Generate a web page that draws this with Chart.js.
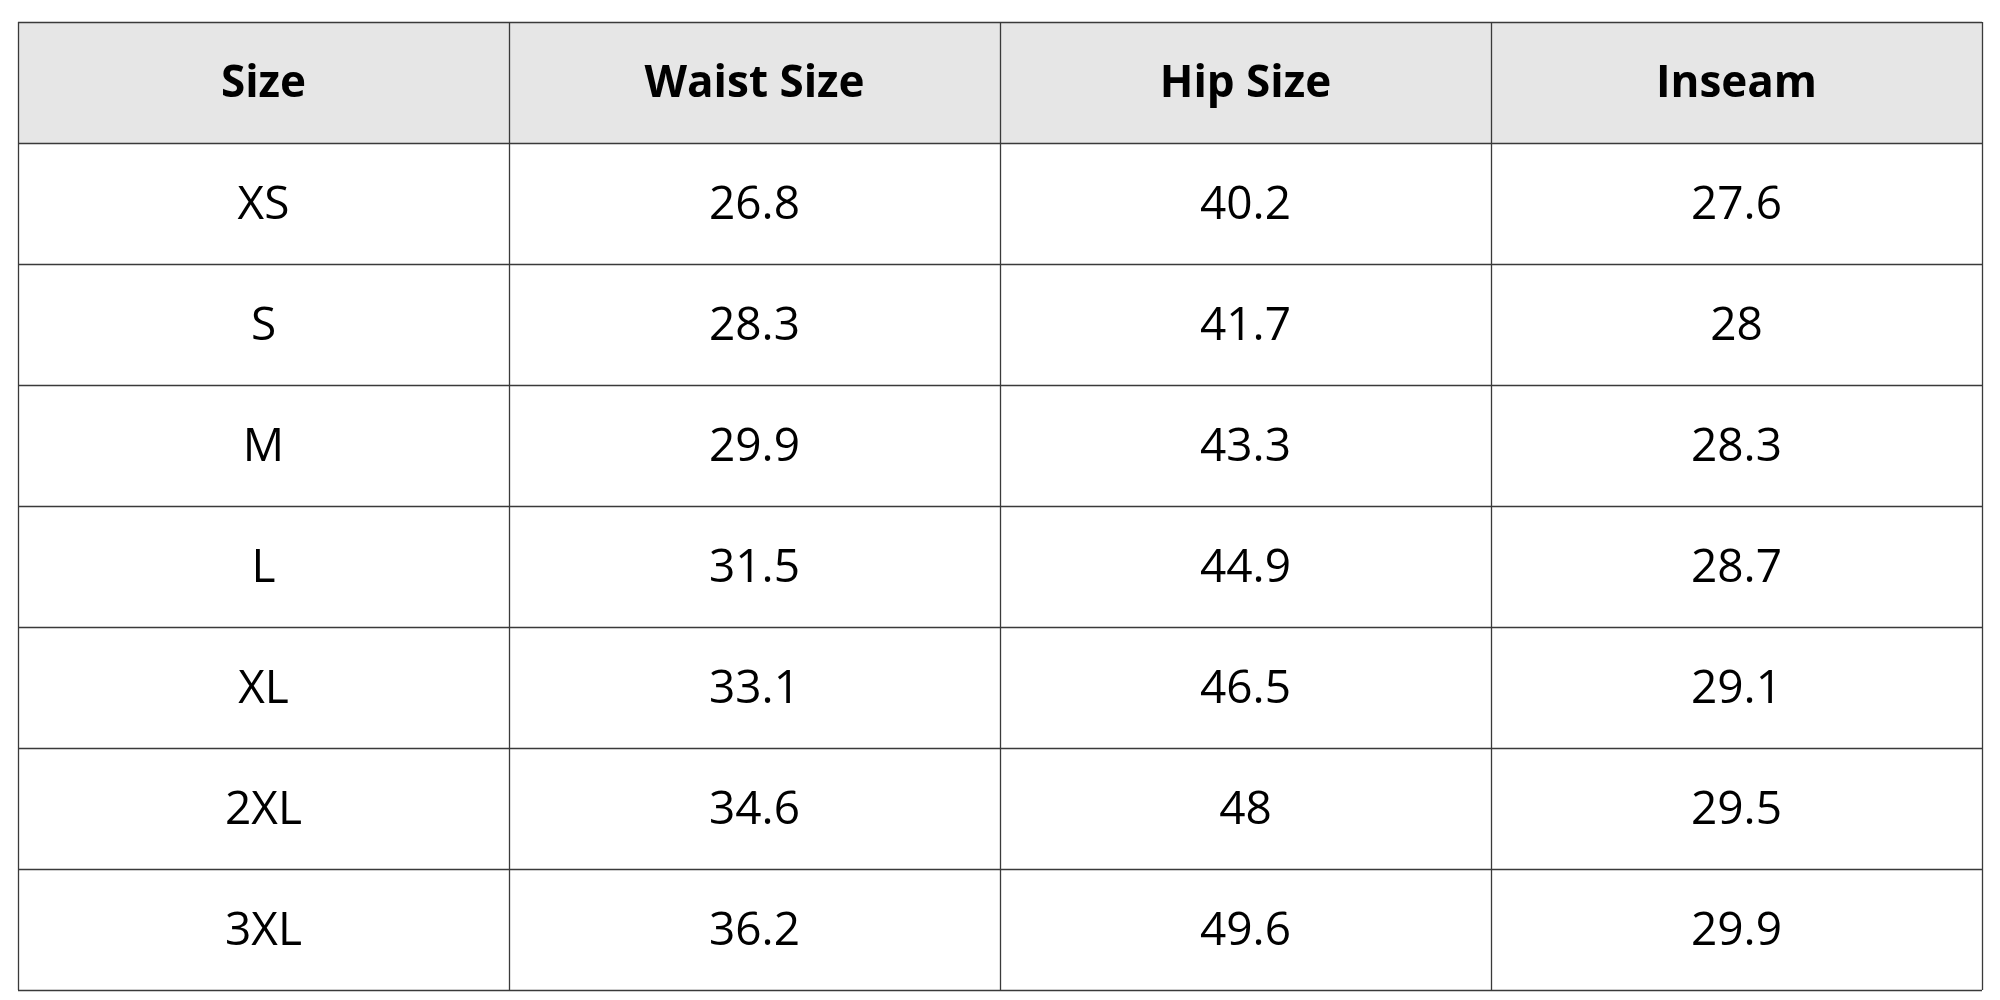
<!DOCTYPE html>
<html><head><meta charset="utf-8">
<script src="https://cdn.jsdelivr.net/npm/chart.js@4/dist/chart.umd.min.js"></script>
<style>html,body{margin:0;padding:0;background:#fff}#wrap{width:2000px;height:1000px}</style>
</head><body><div id="wrap"><canvas id="c" width="2000" height="1000"></canvas></div>
<script>
const headers = ["Size","Waist Size","Hip Size","Inseam"];
const sizes = ["XS","S","M","L","XL","2XL","3XL"];
const waist = ["26.8","28.3","29.9","31.5","33.1","34.6","36.2"];
const hip = ["40.2","41.7","43.3","44.9","46.5","48","49.6"];
const inseam = ["27.6","28","28.3","28.7","29.1","29.5","29.9"];
const columns = [sizes, waist, hip, inseam];

const tablePlugin = {
  id: 'table',
  afterDraw(chart) {
    const ctx = chart.ctx, xs = chart.scales.x, ys = chart.scales.y;
    const nC = headers.length, nR = sizes.length + 1;
    const X = i => xs.getPixelForValue(i), Y = j => ys.getPixelForValue(j);
    ctx.save();
    ctx.fillStyle = '#e6e6e6';
    ctx.fillRect(X(0), Y(0), X(nC) - X(0), Y(1) - Y(0));
    ctx.strokeStyle = '#3a3a3a'; ctx.lineWidth = 1.3;
    for (let i = 0; i <= nC; i++) { ctx.beginPath(); ctx.moveTo(Math.round(X(i))+0.5, Y(0)); ctx.lineTo(Math.round(X(i))+0.5, Y(nR)); ctx.stroke(); }
    for (let j = 0; j <= nR; j++) { ctx.beginPath(); ctx.moveTo(X(0), Math.round(Y(j))+0.5); ctx.lineTo(X(nC), Math.round(Y(j))+0.5); ctx.stroke(); }
    ctx.textAlign = 'center'; ctx.textBaseline = 'middle'; ctx.fillStyle = '#000';
    ctx.font = 'bold 44px "Open Sans"';
    headers.forEach((h, i) => ctx.fillText(h, X(i + 0.5), Y(0.5) + 2));
    ctx.font = '46px "Open Sans"';
    columns.forEach((col, i) => col.forEach((v, j) => ctx.fillText(v, X(i + 0.5), Y(j + 1.5) + 2)));
    ctx.restore();
  }
};

new Chart(document.getElementById('c'), {
  type: 'scatter',
  data: { datasets: [{ data: [] }] },
  options: {
    responsive: false, animation: false, devicePixelRatio: 1,
    layout: { padding: { left: 18, right: 18, top: 22, bottom: 10 } },
    plugins: { legend: { display: false }, tooltip: { enabled: false } },
    scales: {
      x: { type: 'linear', min: 0, max: headers.length, display: false },
      y: { type: 'linear', min: 0, max: sizes.length + 1, reverse: true, display: false }
    }
  },
  plugins: [tablePlugin]
});
</script></body></html>
